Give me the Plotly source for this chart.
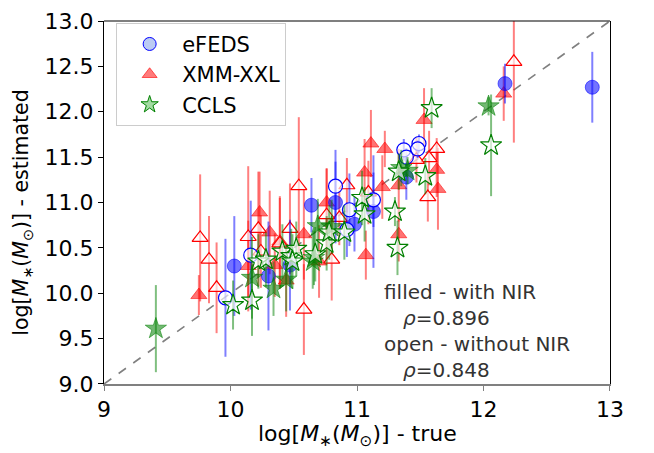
import plotly.graph_objects as go

# ---------------- data ----------------
efeds_fill_x = [12.86, 12.17, 11.39, 11.13, 10.98, 10.83, 10.64, 10.30, 10.03, 10.47]
efeds_fill_y = [12.27, 12.31, 11.28, 10.90, 10.76, 11.00, 10.97, 10.19, 10.30, 10.31]
efeds_fill_e = [0.39, 0.22, 0.25, 0.62, 0.30, 0.45, 0.30, 0.60, 0.55, 0.50]

efeds_open_x = [9.96, 10.16, 10.83, 10.94, 10.92, 11.13, 11.37, 11.39, 11.49, 11.48]
efeds_open_y = [9.95, 10.42, 11.18, 10.92, 10.70, 11.03, 11.58, 11.50, 11.65, 11.59]
efeds_open_e = [0.65, 0.60, 0.40, 0.40, 0.30, 0.30, 0.12, 0.10, 0.10, 0.10]

xxl_fill_x = [12.16, 11.53, 11.11, 11.22, 11.63, 11.64, 11.33, 11.06, 11.20, 11.33, 11.07,
              10.76, 10.70, 10.58, 10.44, 10.39, 10.31, 10.23, 10.14, 9.75, 10.35]
xxl_fill_y = [12.20, 11.91, 11.65, 11.59, 11.36, 11.15, 11.19, 11.33, 11.17, 10.65, 10.42,
              11.00, 10.35, 10.65, 10.14, 10.57, 10.67, 10.89, 10.30, 9.98, 10.31]
xxl_fill_e = [0.30, 0.35, 0.37, 0.20, 0.30, 0.45, 0.40, 0.37, 0.35, 0.30, 0.27,
              0.37, 0.40, 0.50, 0.40, 0.50, 0.46, 0.45, 0.50, 0.22, 0.35]

xxl_open_x = [12.24, 11.63, 11.57, 11.47, 11.56, 10.92, 11.09, 10.86, 10.76, 10.80,
              10.58, 10.54, 10.47, 10.39, 10.22, 10.24, 10.14, 9.89, 9.83, 9.76]
xxl_open_y = [12.55, 11.59, 11.49, 11.47, 11.06, 11.19, 11.11, 10.83, 10.86, 10.37,
              9.82, 11.18, 10.71, 10.55, 10.71, 10.46, 10.62, 10.06, 10.37, 10.61]
xxl_open_e = [0.89, 0.12, 0.30, 0.25, 0.27, 0.30, 0.35, 0.30, 0.52, 0.45,
              0.50, 0.76, 0.50, 0.50, 0.63, 0.40, 0.78, 0.50, 0.48, 0.70]

ccls_fill_x = [9.41, 12.04, 11.35, 11.40, 10.69, 10.80, 10.66, 10.44, 10.34, 10.17, 10.65]
ccls_fill_y = [9.61, 12.06, 11.38, 11.35, 10.74, 10.73, 10.39, 10.15, 10.05, 10.17, 10.35]
ccls_fill_e = [0.48, 0.10, 0.20, 0.15, 0.30, 0.30, 0.30, 0.35, 0.30, 0.45, 0.30]

ccls_open_x = [12.06, 11.59, 11.54, 11.33, 11.30, 11.32, 11.04, 11.06, 10.02, 10.17,
               10.22, 10.28, 10.41, 10.48, 10.52, 10.67, 10.76, 10.78, 10.90, 10.49]
ccls_open_y = [11.63, 12.04, 11.29, 11.34, 10.90, 10.50, 11.05, 10.87, 9.87, 9.92,
               10.35, 10.37, 10.46, 10.41, 10.49, 10.43, 10.55, 10.67, 10.67, 10.35]
ccls_open_e = [0.56, 0.22, 0.20, 0.20, 0.16, 0.30, 0.30, 0.30, 0.27, 0.39,
               0.30, 0.30, 0.30, 0.30, 0.30, 0.30, 0.30, 0.30, 0.30, 0.30]

diag = [9, 13]
x_ticks = [9, 10, 11, 12, 13]
y_ticks = [9.0, 9.5, 10.0, 10.5, 11.0, 11.5, 12.0, 12.5, 13.0]
series_names = ["eFEDS", "XMM-XXL", "CCLS"]
x_title = "log[<i>M</i><sub>∗</sub>(<i>M</i><sub>⊙</sub>)] - true"
y_title = "log[<i>M</i><sub>∗</sub>(<i>M</i><sub>⊙</sub>)] - estimated"

# ---------------- figure ----------------
fig = go.Figure()

fig.add_trace(go.Scatter(x=diag, y=diag, mode="lines", showlegend=False,
                         line=dict(color="gray", width=1.6, dash="dash"), hoverinfo="skip"))


def add_set(x, y, e, symbol, size, rgb, filled):
    r, g, b = rgb
    if filled:
        mk = dict(symbol=symbol, size=size, color=f"rgba({r},{g},{b},0.55)",
                  line=dict(color=f"rgba({r},{g},{b},0.55)", width=1))
    else:
        mk = dict(symbol=symbol, size=size, color="rgba(255,255,255,0.65)",
                  line=dict(color=f"rgb({r},{g},{b})", width=1.2))
    fig.add_trace(go.Scatter(
        x=x, y=y, mode="markers", showlegend=False, marker=mk,
        error_y=dict(type="data", array=e, visible=True, color=f"rgba({r},{g},{b},0.5)",
                     thickness=2, width=0)))


add_set(xxl_fill_x, xxl_fill_y, xxl_fill_e, "triangle-up", 14, (255, 0, 0), True)
add_set(xxl_open_x, xxl_open_y, xxl_open_e, "triangle-up", 14, (255, 0, 0), False)
add_set(efeds_fill_x, efeds_fill_y, efeds_fill_e, "circle", 14, (0, 0, 255), True)
add_set(efeds_open_x, efeds_open_y, efeds_open_e, "circle", 14, (0, 0, 255), False)
add_set(ccls_fill_x, ccls_fill_y, ccls_fill_e, "star", 16, (0, 128, 0), True)
add_set(ccls_open_x, ccls_open_y, ccls_open_e, "star", 16, (0, 128, 0), False)

# legend-only entries
leg_styles = [
    ("circle", "rgba(170,190,240,0.8)", "blue"),
    ("triangle-up", "rgba(255,90,90,0.8)", "rgba(255,0,0,0.6)"),
    ("star", "rgba(140,210,140,0.8)", "green"),
]
for name, (sym, fc, lc) in zip(series_names, leg_styles):
    fig.add_trace(go.Scatter(x=[None], y=[None], mode="markers", name=name,
                             marker=dict(symbol=sym, size=13, color=fc, line=dict(color=lc, width=1))))

fig.add_annotation(
    x=11.2, y=10.17, xref="x", yref="y", xanchor="left", yanchor="top", showarrow=False,
    align="left",
    text=("filled - with NIR<br>&nbsp;&nbsp;&nbsp;<i>ρ</i>=0.896<br>"
          "open - without NIR<br>&nbsp;&nbsp;&nbsp;<i>ρ</i>=0.848"),
    font=dict(size=20, color="#333333", family="DejaVu Sans"))

# axis titles as annotations
fig.add_annotation(x=0.5, y=-0.142, xref="paper", yref="paper", xanchor="center",
                   yanchor="middle", showarrow=False, text=x_title,
                   font=dict(size=22, color="black"))
fig.add_annotation(x=-0.162, y=0.472, xref="paper", yref="paper", xanchor="center",
                   yanchor="middle", showarrow=False, text=y_title, textangle=-90,
                   font=dict(size=20.5, color="black"))

# top spine
fig.add_shape(type="line", xref="x domain", yref="y domain", x0=0, x1=1, y0=1, y1=1,
              line=dict(color="black", width=1.2))

fig.update_layout(
    width=654, height=453,
    margin=dict(l=104, r=44, t=9, b=69),
    plot_bgcolor="white", paper_bgcolor="white",
    font=dict(family="DejaVu Sans", size=22, color="black"),
    showlegend=True,
    legend=dict(x=0.024, y=0.995, xanchor="left", yanchor="top",
                bgcolor="rgba(255,255,255,0.85)", bordercolor="#cccccc", borderwidth=1,
                font=dict(size=21), itemwidth=55),
    xaxis=dict(range=[8.9999, 13.0001], tickvals=x_ticks, ticks="outside", ticklen=5,
               tickcolor="gray", showline=True, linecolor="gray", linewidth=2,
               showgrid=False, zeroline=False, tickfont=dict(size=22),
               ticklabeloverflow="allow"),
    yaxis=dict(range=[8.9999, 13.0001], tickvals=y_ticks, tickformat=".1f", ticks="outside",
               ticklen=5, tickcolor="black", showline=True, linecolor="black", linewidth=1.2,
               mirror=True, showgrid=False, zeroline=False, tickfont=dict(size=22),
               ticklabeloverflow="allow"),
)

fig.write_html("out.html")
